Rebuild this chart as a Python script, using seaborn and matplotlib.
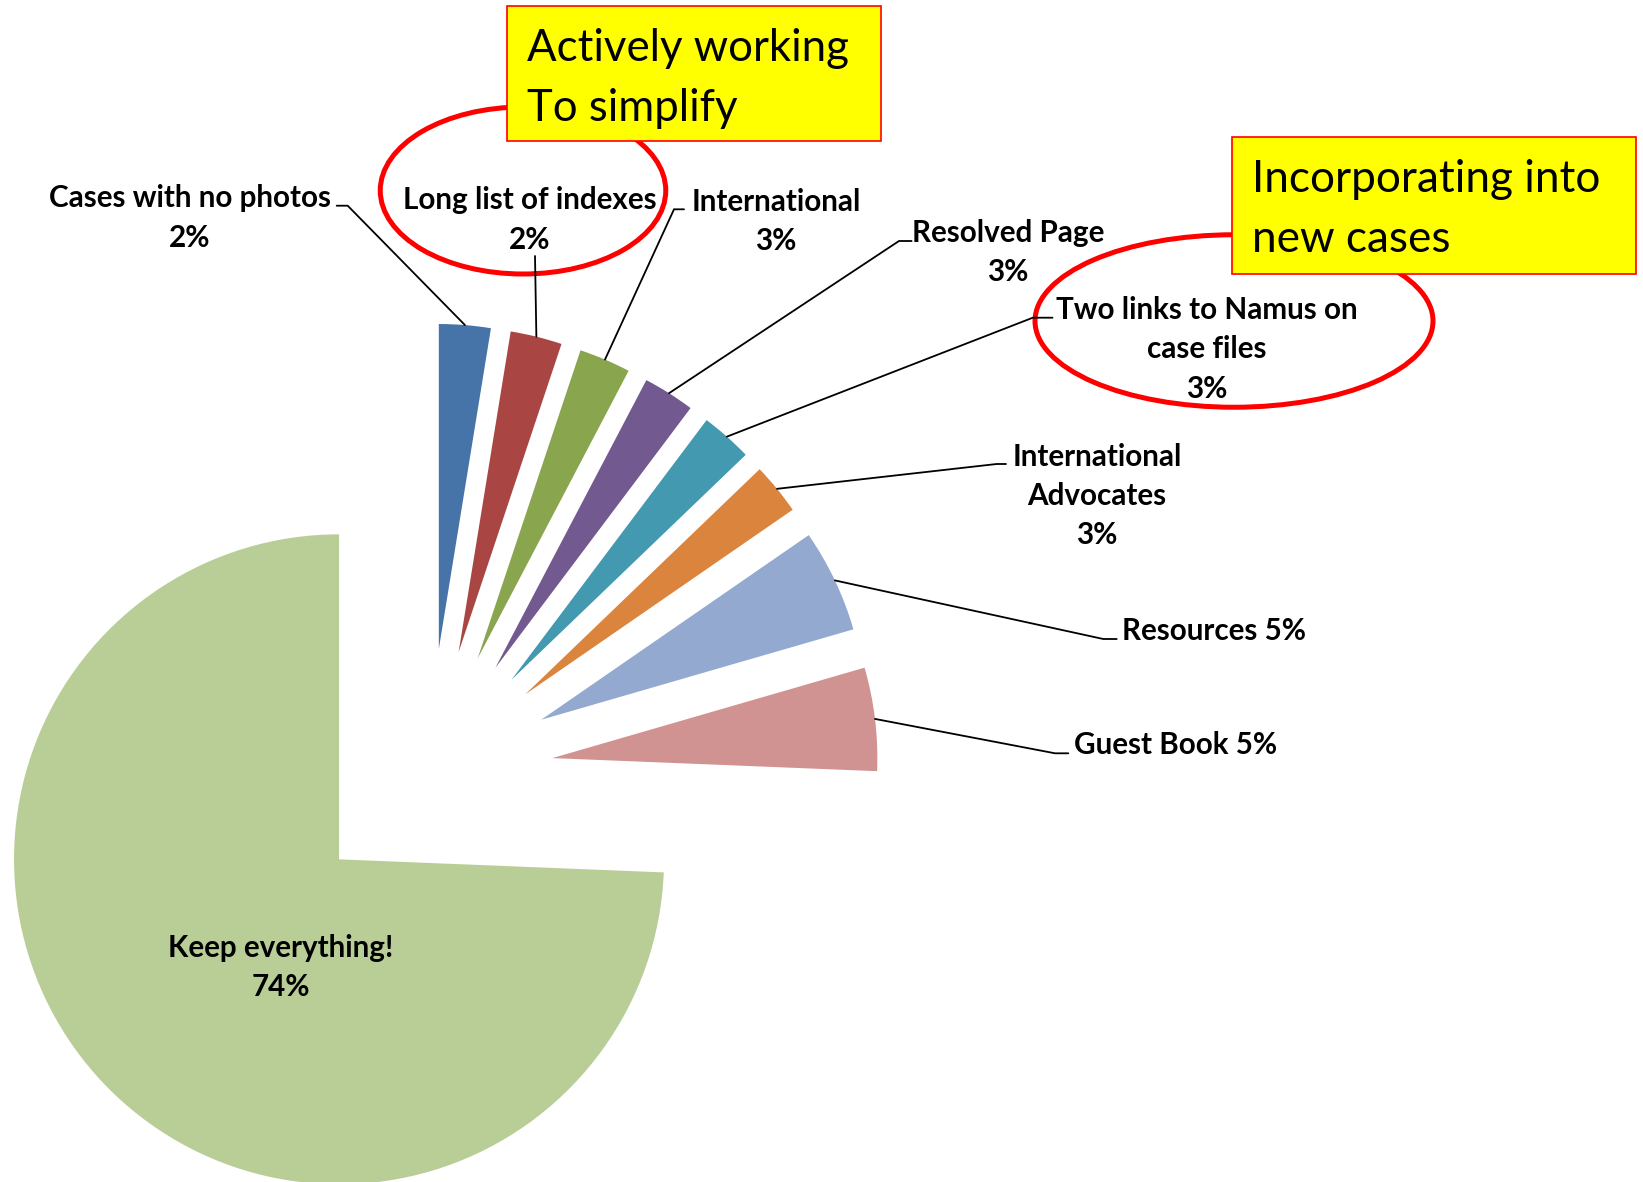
import matplotlib
matplotlib.use("Agg")
import matplotlib.pyplot as plt
import seaborn as sns
import numpy as np
from matplotlib.patches import Ellipse, Rectangle

# survey answers, clockwise from 12 o'clock
categories = ["Cases with no photos", "Long list of indexes", "International",
              "Resolved Page", "Two links to Namus on\ncase files",
              "International\nAdvocates", "Resources", "Guest Book",
              "Keep everything!"]
responses = [1, 1, 1, 1, 1, 1, 2, 2, 29]
pct_labels = ["2%", "2%", "3%", "3%", "3%", "3%", "5%", "5%", "74%"]

colors = ["#4673A8", "#A94644", "#89A54E", "#72598F", "#4299B0",
          "#DB843D", "#94A9CF", "#D19292", "#B9CE97"]

sns.set_style("white")
plt.rcParams["font.family"] = ["Lato", "DejaVu Sans"]
plt.rcParams["text.color"] = "black"

fig = plt.figure(figsize=(16.43, 11.82), dpi=100)
ax = fig.add_axes([0, 0, 1, 1])

# pixel-like coordinates, y pointing down
cx, cy, R = 428.8, 773.1, 325
# pie() adds explode in data units, so scale by the radius
wedges, _ = ax.pie(responses, colors=sns.color_palette(colors),
                   startangle=-90, counterclock=True,
                   explode=[0.383 * R] * len(responses),
                   center=(cx, cy), radius=R,
                   wedgeprops=dict(linewidth=0))
ax.set_xlim(0, 1643)
ax.set_ylim(1182, 0)
ax.set_aspect("auto")
ax.axis("off")

# label position, ha, elbow, end of leader
label_pos = [(190, 218, "center"), (530, 220, "center"), (776, 221.5, "center"),
             (1008, 252.5, "center"), (1207, 349.5, "center"),
             (1097, 496, "center"), (1121.7, 631, "left"),
             (1074, 745, "left"), (281, 967.5, "center")]
elbows = [(347.7, 205.7, 336.7), (535, 256, 535), (674, 209.3, 684),
          (899, 241, 911.6), (1032.8, 317.7, 1052.5), (996.7, 464, 1006),
          (1103.3, 639, 1116.7), (1055, 753.3, 1068.3), None]

for i, w in enumerate(wedges):
    x, y, ha = label_pos[i]
    if ha == "left":
        txt = categories[i] + " " + pct_labels[i]
    else:
        txt = categories[i] + "\n" + pct_labels[i]
    ax.text(x, y, txt, ha=ha, va="center", fontsize=21.3, fontweight="bold",
            linespacing=1.5, color="black")
    if elbows[i] is not None:
        mid = np.deg2rad((w.theta1 + w.theta2) / 2)
        sx = w.center[0] + w.r * np.cos(mid)
        sy = w.center[1] + w.r * np.sin(mid)
        ex, ey, tx = elbows[i]
        ax.plot([sx, ex, tx], [sy, ey, ey], color="black", lw=1.3,
                solid_joinstyle="miter")

# callouts
ax.add_patch(Ellipse((523, 190.5), 285.5, 167, fill=False, ec="#FF0000", lw=3.6))
ax.add_patch(Ellipse((1234, 321), 398, 172.5, fill=False, ec="#FF0000", lw=3.6))
ax.add_patch(Rectangle((506.7, 5.7), 374, 135.6, fc="#FFFF00", ec="#FF0000", lw=1.2, zorder=5))
ax.add_patch(Rectangle((1231.6, 137.3), 404.7, 136.7, fc="#FFFF00", ec="#FF0000", lw=1.2, zorder=5))
ax.text(527.3, 78.5, "Actively working\nTo simplify", ha="left", va="center",
        fontsize=31.5, linespacing=1.6, color="black", zorder=6)
ax.text(1252, 209.5, "Incorporating into\nnew cases", ha="left", va="center",
        fontsize=31.8, linespacing=1.6, color="black", zorder=6)

plt.savefig("out.png", dpi=100)
